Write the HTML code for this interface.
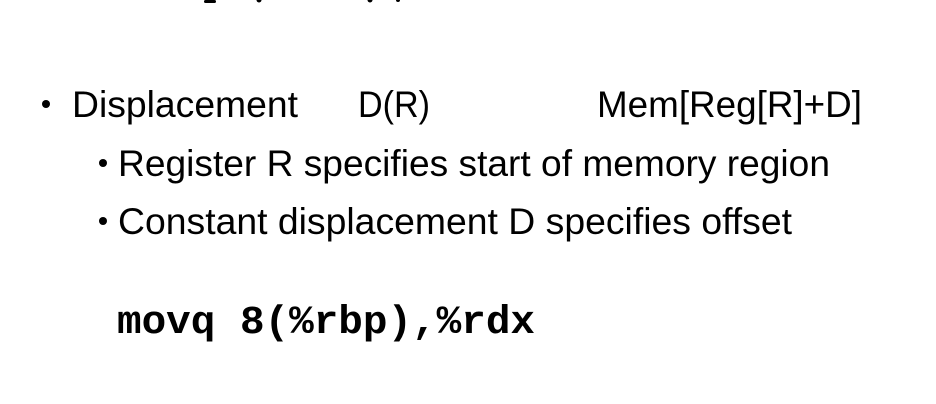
<!DOCTYPE html>
<html><head><meta charset="utf-8"><style>
html,body{margin:0;padding:0;background:#fff;}
svg{display:block}
</style></head><body>
<svg width="936" height="404" viewBox="0 0 936 404" xmlns="http://www.w3.org/2000/svg">
<rect width="936" height="404" fill="#fff"/>
<g fill="#000">
<rect x="204" y="0" width="12" height="3" rx="1.5"/>
<circle cx="259" cy="0" r="2.5"/>
<circle cx="370" cy="0" r="2.5"/>
<circle cx="398" cy="0" r="2"/>
</g>
<g font-family="Liberation Sans, sans-serif" font-size="37" fill="#000">
<circle cx="46" cy="104" r="4"/>
<text x="72" y="117" textLength="226" lengthAdjust="spacingAndGlyphs">Displacement</text>
<text x="358" y="117" textLength="72" lengthAdjust="spacingAndGlyphs">D(R)</text>
<text x="597" y="117" textLength="265" lengthAdjust="spacingAndGlyphs">Mem[Reg[R]+D]</text>
<circle cx="103" cy="163" r="4"/>
<text x="118" y="176" textLength="712" lengthAdjust="spacingAndGlyphs">Register R specifies start of memory region</text>
<circle cx="103" cy="221" r="4"/>
<text x="118" y="234" textLength="674" lengthAdjust="spacingAndGlyphs">Constant displacement D specifies offset</text>
</g>
<text x="117" y="333" font-family="Liberation Mono, monospace" font-weight="bold" font-size="40" textLength="418" lengthAdjust="spacingAndGlyphs">movq 8(%rbp),%rdx</text>
</svg>
</body></html>
